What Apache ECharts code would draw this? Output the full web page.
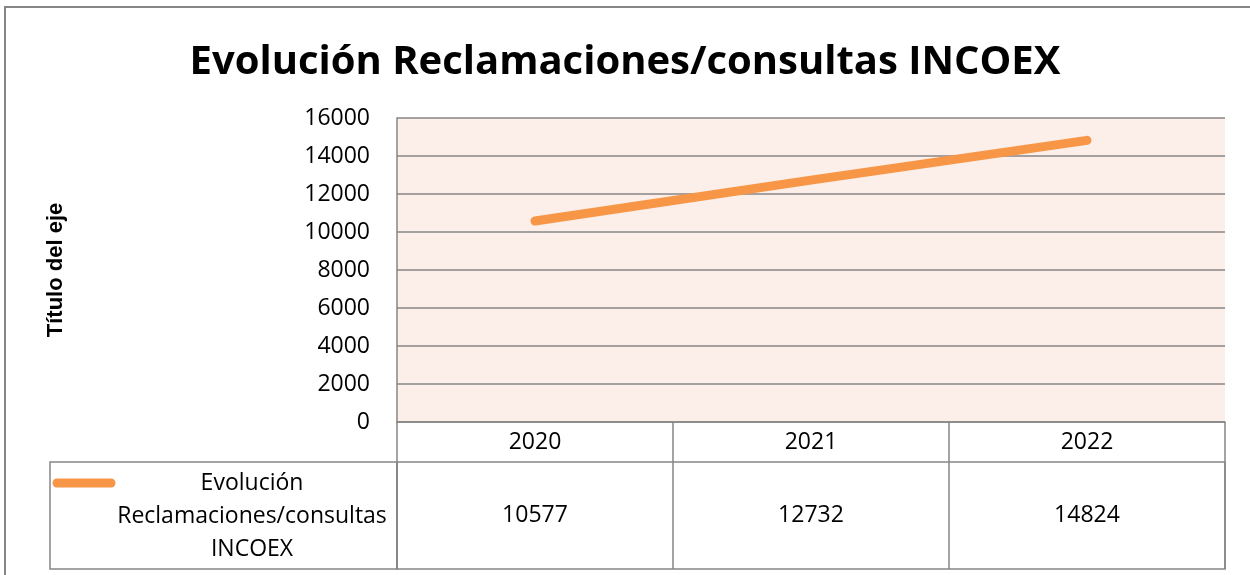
<!DOCTYPE html>
<html>
<head>
<meta charset="utf-8">
<script src="https://cdn.jsdelivr.net/npm/echarts@6/dist/echarts.min.js"></script>
<style>
  html, body { margin: 0; padding: 0; background: #fff; }
  #chart { width: 1250px; height: 575px; }
</style>
</head>
<body>
<div id="chart"></div>
<script>
// datos del grafico
const years = ["2020", "2021", "2022"];
const reclamaciones = [10577, 12732, 14824];
const yTicks = { min: 0, max: 16000, step: 2000 };
const seriesName = "Evolución Reclamaciones/consultas INCOEX";
const legendLines = ["Evolución", "Reclamaciones/consultas", "INCOEX"];

const gris = "#868686";
const naranja = "#F79646";
const fuente = "'Open Sans', 'Noto Sans', sans-serif";

const chart = echarts.init(document.getElementById("chart"));

chart.setOption({
    animation: false,
    backgroundColor: "#ffffff",
    title: {
        text: "Evolución Reclamaciones/consultas INCOEX",
        left: "center",
        top: 38,
        textStyle: { fontFamily: fuente, fontWeight: "bold", fontSize: 40, color: "#000" }
    },
    grid: [
        // area del grafico
        { left: 397, top: 118, width: 828, height: 304, show: true, backgroundColor: "#FCEEE9", borderWidth: 0 },
        // fila de valores de la tabla
        { left: 397, top: 462, width: 828, height: 107, show: true, backgroundColor: "#fff", borderColor: gris, borderWidth: 1.5 }
    ],
    xAxis: [
        {
            type: "category", gridIndex: 0, data: years, boundaryGap: true,
            axisLine: { lineStyle: { color: gris, width: 1.5 } },
            axisTick: { show: true, interval: 0, length: 40, lineStyle: { color: gris, width: 1.5 } },
            axisLabel: { margin: 9, fontFamily: fuente, fontSize: 23, color: "#000" },
            splitLine: { show: false }
        },
        {
            type: "category", gridIndex: 1, data: years, boundaryGap: true,
            axisLine: { show: false }, axisTick: { show: false }, axisLabel: { show: false },
            splitLine: { show: true, interval: 0, lineStyle: { color: gris, width: 1.5 } }
        }
    ],
    yAxis: [
        {
            type: "value", gridIndex: 0, min: yTicks.min, max: yTicks.max, interval: yTicks.step,
            name: "Título del eje", nameLocation: "middle", nameRotate: 90, nameGap: 330,
            nameTextStyle: { fontFamily: "'Liberation Sans', Arial, sans-serif", fontWeight: "bold", fontSize: 22, color: "#000" },
            axisLine: { show: true, lineStyle: { color: gris, width: 1.5 } },
            axisTick: { show: false },
            axisLabel: { margin: 27, fontFamily: fuente, fontSize: 23, color: "#000", formatter: v => String(v) },
            splitLine: { show: true, lineStyle: { color: gris, width: 1.5 } }
        },
        { type: "value", gridIndex: 1, min: 0, max: 1, show: false }
    ],
    series: [
        {
            name: seriesName, type: "line", xAxisIndex: 0, yAxisIndex: 0,
            data: reclamaciones, showSymbol: false, symbol: "none",
            lineStyle: { color: naranja, width: 9, cap: "round" }
        },
        {
            // valores en la tabla
            type: "scatter", xAxisIndex: 1, yAxisIndex: 1, symbolSize: 1, silent: true,
            itemStyle: { color: "transparent" },
            data: years.map((y, i) => [y, 0.5, reclamaciones[i]]),
            label: {
                show: true, position: "inside", formatter: p => String(p.value[2]),
                fontFamily: fuente, fontSize: 23, color: "#000", textBorderWidth: 0, opacity: 1
            }
        }
    ],
    graphic: [
        // borde exterior
        { type: "rect", shape: { x: 5, y: 7, width: 1300, height: 700 }, style: { fill: "none", stroke: gris, lineWidth: 2 }, silent: true },
        // celda de leyenda
        { type: "rect", shape: { x: 50, y: 462, width: 347, height: 107 }, style: { fill: "none", stroke: gris, lineWidth: 1.5 }, silent: true },
        { type: "line", shape: { x1: 57, y1: 483, x2: 111, y2: 483 }, style: { stroke: naranja, lineWidth: 9, lineCap: "round" }, silent: true },
        {
            type: "text", x: 252, y: 516, silent: true,
            style: {
                text: legendLines.join("\n"), align: "center", verticalAlign: "middle",
                font: "23px " + fuente, lineHeight: 33, fill: "#000"
            }
        }
    ]
});
</script>
</body>
</html>
